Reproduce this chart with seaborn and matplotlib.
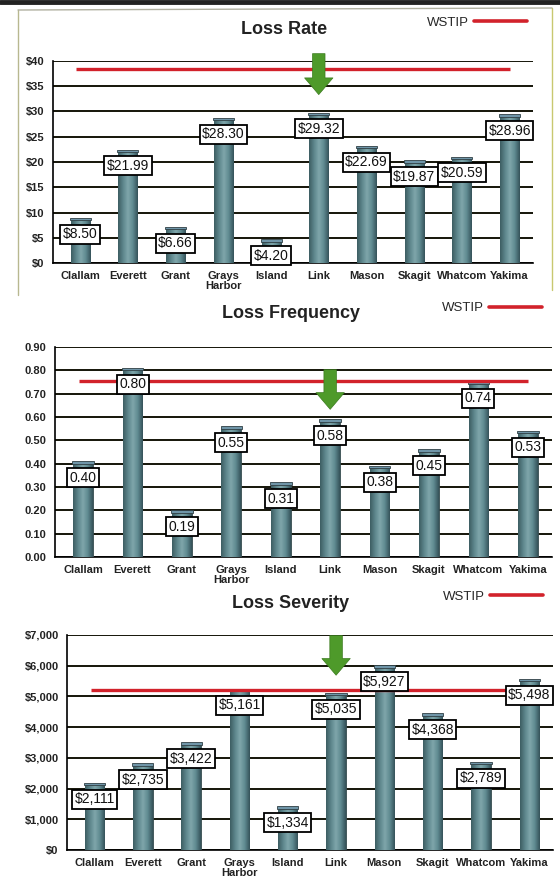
import numpy as np
import matplotlib
matplotlib.use("Agg")
import matplotlib.pyplot as plt
from matplotlib.colors import LinearSegmentedColormap
from matplotlib.lines import Line2D
import seaborn as sns

sns.set_style("white")
plt.rcParams['font.family'] = ['Liberation Sans', 'DejaVu Sans']

# data
counties = ["Clallam", "Everett", "Grant", "Grays\nHarbor", "Island",
            "Link", "Mason", "Skagit", "Whatcom", "Yakima"]
loss_rate = [8.50, 21.99, 6.66, 28.30, 4.20, 29.32, 22.69, 19.87, 20.59, 28.96]
loss_freq = [0.40, 0.80, 0.19, 0.55, 0.31, 0.58, 0.38, 0.45, 0.74, 0.53]
loss_sev = [2111, 2735, 3422, 5161, 1334, 5035, 5927, 4368, 2789, 5498]
wstip_rate = 38.5
wstip_freq = 0.755
wstip_sev = 5200
highlight = "Link"

W, H = 560, 891
RED = "#d2222b"
GREEN = "#4e9a2a"
NARROW = ['Liberation Sans Narrow', 'Liberation Sans', 'DejaVu Sans']
bar_cmap = LinearSegmentedColormap.from_list(
    "cyl", ["#3d5d62", "#5d868c", "#7fa6ab", "#5f8a90", "#35525a"])


def px_rect(l, r, t, b):
    return [l / W, 1 - b / H, (r - l) / W, (b - t) / H]


fig = plt.figure(figsize=(W / 100, H / 100), dpi=100)

# scan frame around top panel
fig.add_artist(Line2D([0, 1], [1 - 2 / H, 1 - 2 / H], color="#222", lw=3.5))
fig.add_artist(Line2D([18 / W, 18 / W], [1 - 10 / H, 1 - 295 / H], color="#b8b890", lw=1))
fig.add_artist(Line2D([552 / W, 552 / W], [1 - 8 / H, 1 - 290 / H], color="#c8c870", lw=1))
fig.add_artist(Line2D([18 / W, 552 / W], [1 - 10 / H, 1 - 8 / H], color="#b0b0a0", lw=1))

panels = [
    dict(title="Loss Rate", vals=loss_rate, wstip=wstip_rate, box=(53, 533, 61, 263),
         ylim=40, step=5, ylab=lambda v: f"${v:.0f}", blab=lambda v: f"${v:.2f}",
         title_xy=(284, 29), leg_xy=(477, 23), arrow=(1.05, 0.82)),
    dict(title="Loss Frequency", vals=loss_freq, wstip=wstip_freq, box=(55, 552, 347, 557),
         ylim=0.9, step=0.1, ylab=lambda v: f"{v:.2f}", blab=lambda v: f"{v:.2f}",
         title_xy=(291, 313), leg_xy=(492, 308), arrow=(0.905, 0.69)),
    dict(title="Loss Severity", vals=loss_sev, wstip=wstip_sev, box=(67, 553, 635, 850),
         ylim=7000, step=1000, ylab=lambda v: f"${v:,.0f}", blab=lambda v: f"${v:,.0f}",
         title_xy=(291, 603), leg_xy=(493, 597), arrow=(1.01, 0.80)),
]

for p in panels:
    ax = fig.add_axes(px_rect(*p["box"]))
    sns.barplot(x=counties, y=p["vals"], ax=ax, color="#557f85", width=0.4,
                saturation=1, edgecolor="#34494c", linewidth=0.6, zorder=3)

    # cylinder-ish shading on every bar
    grad = np.linspace(0, 1, 64).reshape(1, -1)
    for patch in list(ax.patches):
        x0, y0 = patch.get_x(), patch.get_y()
        w, h = patch.get_width(), patch.get_height()
        im = ax.imshow(grad, cmap=bar_cmap, extent=[x0, x0 + w, y0, y0 + h],
                       aspect="auto", zorder=3.5)
        im.set_clip_path(patch)
        cap = plt.Rectangle((x0 - 0.02, y0 + h), w + 0.04, p["ylim"] * 0.012,
                            facecolor="#6f95a8", edgecolor="#2f3f44", lw=0.6, zorder=3.6)
        ax.add_patch(cap)

    ax.hlines(p["wstip"], -0.08, len(counties) - 1, color=RED, lw=2.4, zorder=4)

    for i, v in enumerate(p["vals"]):
        ax.annotate(p["blab"](v), (i, v), xytext=(0, -5), textcoords="offset points",
                    ha="center", va="top", fontsize=10, zorder=6, color="#111",
                    bbox=dict(boxstyle="square,pad=0.18", fc="white", ec="black", lw=1.3))

    k = counties.index(highlight)
    ax.annotate("", xy=(k, p["arrow"][1]), xytext=(k, p["arrow"][0]),
                xycoords=("data", "axes fraction"), textcoords=("data", "axes fraction"),
                annotation_clip=False, zorder=7,
                arrowprops=dict(arrowstyle="simple,head_width=1.7,head_length=1.0,tail_width=0.75",
                                mutation_scale=12, color=GREEN, ec="#3a7a1e", lw=0.5))

    ax.set_xlim(-0.57, len(counties) - 0.51)
    ax.set_ylim(0, p["ylim"])
    ticks = np.arange(0, p["ylim"] + p["step"] / 2, p["step"])
    ax.set_yticks(ticks)
    ax.set_yticklabels([p["ylab"](t) for t in ticks], fontsize=8, family=NARROW,
                       fontweight="bold", color="#222")
    ax.set_xticks(range(len(counties)))
    ax.set_xticklabels(counties, fontsize=8, linespacing=0.95, family=NARROW,
                       fontweight="bold", color="#222")
    ax.set_xticks(np.arange(0.5, len(counties) - 0.5), minor=True)
    ax.tick_params(axis="x", which="major", length=0, pad=6)
    ax.tick_params(axis="x", which="minor", length=4, width=1, color="black", direction="out")
    ax.tick_params(axis="y", length=4, width=1, color="black", direction="out", pad=2)
    ax.yaxis.grid(True, color="#141408", lw=1.4, zorder=0)
    ax.set_axisbelow(True)
    for side in ["top", "right"]:
        ax.spines[side].set_visible(False)
    for side in ["left", "bottom"]:
        ax.spines[side].set_color("black")
        ax.spines[side].set_linewidth(1.2)

    fig.text(p["title_xy"][0] / W, 1 - p["title_xy"][1] / H, p["title"],
             ha="center", va="center", fontsize=13, fontweight="bold", color="#222")
    fig.legend(handles=[Line2D([], [], color=RED, lw=2.6, label="WSTIP")],
               loc="center", bbox_to_anchor=(p["leg_xy"][0] / W, 1 - p["leg_xy"][1] / H),
               bbox_transform=fig.transFigure, frameon=False, markerfirst=False,
               handlelength=4.0, handletextpad=0.4, fontsize=9.5)

fig.savefig("out.png", dpi=100, facecolor="white")
